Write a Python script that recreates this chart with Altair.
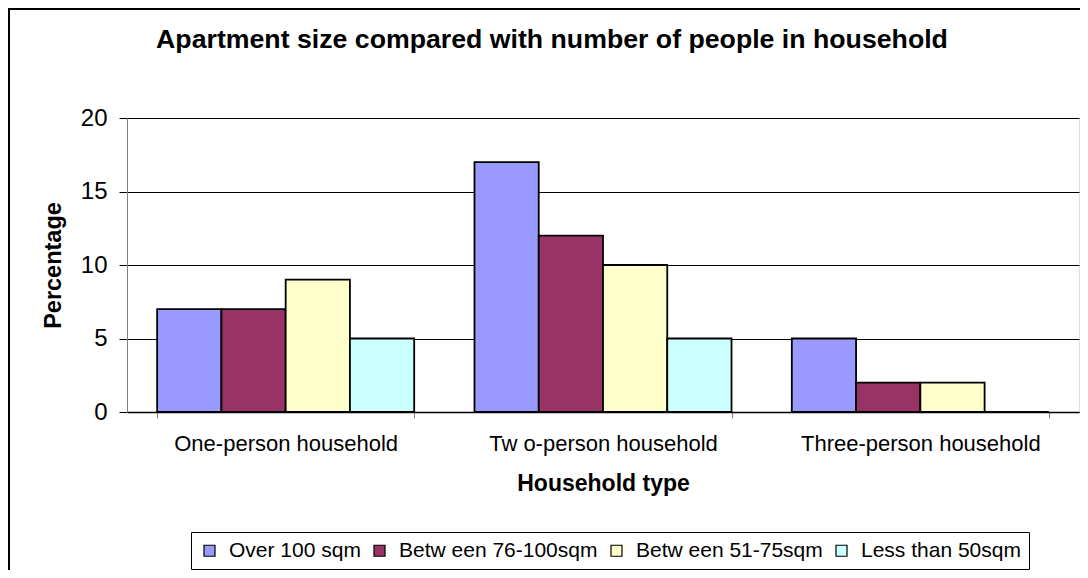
import altair as alt
import pandas as pd

title_text = "Apartment size compared with number of people in household"
households = ["One-person household", "Tw o-person household", "Three-person household"]
sizes = ["Over 100 sqm", "Betw een 76-100sqm", "Betw een 51-75sqm", "Less than 50sqm"]
colors = ["#9999FF", "#993366", "#FFFFCC", "#CCFFFF"]
over_100 = [7, 17, 5]
between_76_100 = [7, 12, 2]
between_51_75 = [9, 10, 2]
less_50 = [5, 5, 0]
y_ticks = [0, 5, 10, 15, 20]

series = [over_100, between_76_100, between_51_75, less_50]
rows = []
for s, vals in zip(sizes, series):
    for h, v in zip(households, vals):
        rows.append({"household": h, "size": s, "value": v})
df = pd.DataFrame(rows)

FONT = "Liberation Sans"

bars = alt.Chart(df).mark_bar(stroke="black", strokeWidth=1.8).encode(
    x=alt.X("household:N", sort=households,
            scale=alt.Scale(paddingInner=0.19, paddingOuter=0.095),
            axis=alt.Axis(title="Household type", labelAngle=0, tickBand="extent",
                          labelFontSize=22, labelFont=FONT, labelColor="black",
                          labelPadding=15, labelLimit=0, tickSize=6, tickColor="#808080",
                          domainColor="black", domainWidth=1.5,
                          titleFontSize=23, titleFont=FONT, titleFontWeight="bold",
                          titleColor="black", titlePadding=18, grid=False)),
    xOffset=alt.XOffset("size:N", sort=sizes,
                        scale=alt.Scale(paddingInner=0, paddingOuter=0)),
    y=alt.Y("value:Q", scale=alt.Scale(domain=[0, 20], nice=False),
            axis=alt.Axis(title="Percentage", values=y_ticks, labelFontSize=24,
                          labelFont=FONT, labelColor="black", labelPadding=12,
                          tickSize=8, tickColor="black", domainColor="#808080",
                          grid=True, gridColor="black", gridWidth=1,
                          titleFontSize=23.5, titleFont=FONT, titleFontWeight="bold",
                          titleColor="black", titlePadding=15)),
    color=alt.Color("size:N", sort=sizes,
                    scale=alt.Scale(domain=sizes, range=colors),
                    legend=alt.Legend(title=None, orient="none", legendX=64, legendY=414,
                                      direction="horizontal", columns=4,
                                      symbolType="square", symbolSize=121,
                                      symbolStrokeColor="black", symbolStrokeWidth=1.2,
                                      symbolOpacity=1, labelOffset=9,
                                      labelFontSize=21, labelFont=FONT, labelColor="black",
                                      labelLimit=0, columnPadding=8, padding=8,
                                      strokeColor="black")),
)

title = alt.Chart(pd.DataFrame({"t": [title_text]})).mark_text(
    font=FONT, fontSize=26.7, fontWeight="bold", color="black",
    align="center", baseline="alphabetic"
).encode(text="t:N", x=alt.value(425), y=alt.value(-70))

frame = alt.Chart(pd.DataFrame({"a": [0]})).mark_rect(
    fill=None, stroke="black", strokeWidth=2
).encode(
    x=alt.value(-118), x2=alt.value(1200), y=alt.value(-109), y2=alt.value(700)
)

chart = alt.layer(bars, title, frame).properties(
    width=952, height=294,
    autosize=alt.AutoSizeParams(type="none"),
    padding={"left": 119, "top": 110, "right": 1, "bottom": 158},
).configure_view(stroke=None).configure(background="white")

chart.save("out.html", embed_options={"renderer": "svg", "actions": False})
